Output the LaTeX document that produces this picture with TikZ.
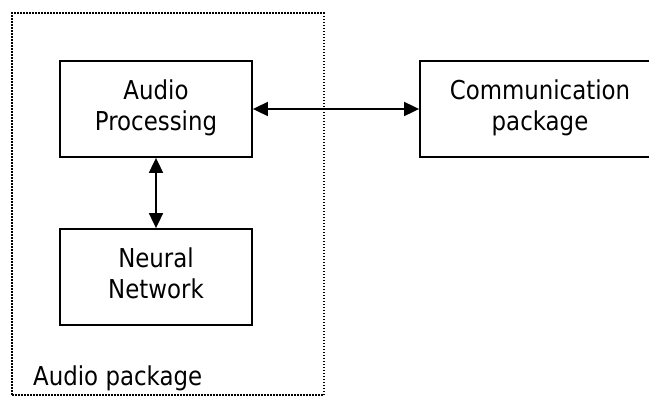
\documentclass[tikz,border=0pt]{standalone}
\usepackage{fontspec}
\setmainfont{DejaVu Sans}[FakeStretch=0.88]
\usetikzlibrary{arrows.meta}

\tikzset{
  block/.style={draw, line width=1.8pt, minimum height=96pt, inner sep=0pt,
    align=center, font=\fontsize{26}{31}\selectfont},
  frame/.style={draw, line width=1.7pt, line cap=butt,
    dash pattern=on 1.5pt off 1.5pt, minimum width=312pt, minimum height=382pt, inner sep=0pt},
  link/.style={line width=1.8pt, {Triangle[length=15pt,width=14pt]}-{Triangle[length=15pt,width=14pt]}},
}

\begin{document}
\begin{tikzpicture}[x=1pt,y=-1pt]
  \useasboundingbox (0,0) rectangle (649,397);
  \clip (0,0) rectangle (649,397);

  % dotted outline of the audio package
  \node[frame] (pkg) at (168,204) {};
  \node[anchor=base west, inner sep=0pt, font=\fontsize{26}{31}\selectfont] (pkglbl) at (33,385) {Audio package};

  % blocks
  \node[block, minimum width=192pt] (ap) at (156,109) {Audio\strut\\Processing\strut};
  \node[block, minimum width=192pt] (nn) at (156,277) {Neural\strut\\Network\strut};
  \node[block, minimum width=240pt] (comm) at (540,109) {Communication\strut\\package\strut};

  % connectors
  \draw[link] (ap.east) -- (comm.west);
  \draw[link] (ap.south) -- (nn.north);
\end{tikzpicture}
\end{document}
